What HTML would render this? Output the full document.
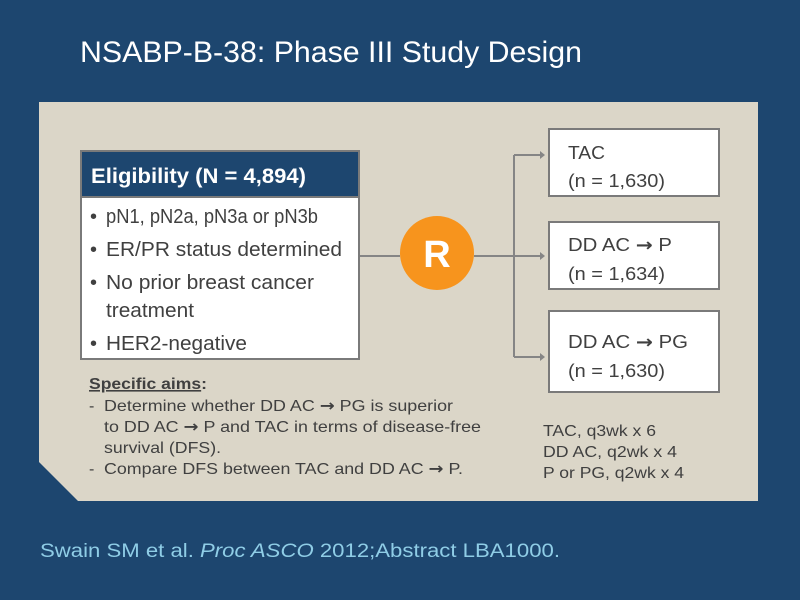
<!DOCTYPE html>
<html><head><meta charset="utf-8"><style>
html,body{margin:0;padding:0;background:#1d466f;}
svg{display:block;font-family:"Liberation Sans",sans-serif;}
</style></head><body>
<svg width="800" height="600" viewBox="0 0 800 600" xmlns="http://www.w3.org/2000/svg">
<rect x="0" y="0" width="800" height="600" fill="#1d466f"/>
<text x="80" y="62" font-size="30" fill="#ffffff" textLength="502" lengthAdjust="spacingAndGlyphs">NSABP-B-38: Phase III Study Design</text>
<polygon points="39,102 758,102 758,501 78,501 39,462" fill="#dbd6c8"/>
<g stroke="#858585" stroke-width="2" fill="none">
<line x1="359" y1="256" x2="400" y2="256"/>
<line x1="474" y1="256" x2="540" y2="256"/>
<line x1="514" y1="155" x2="514" y2="357"/>
<line x1="514" y1="155" x2="540" y2="155"/>
<line x1="514" y1="357" x2="540" y2="357"/>
</g>
<g fill="#858585">
<polygon points="540,151 545,155 540,159"/>
<polygon points="540,252 545,256 540,260"/>
<polygon points="540,353 545,357 540,361"/>
</g>
<rect x="81" y="151" width="278" height="208" fill="#ffffff" stroke="#7a7a7a" stroke-width="2"/>
<rect x="82" y="152" width="276" height="44" fill="#1d466f"/>
<line x1="81" y1="197" x2="359" y2="197" stroke="#7a7a7a" stroke-width="2"/>
<text x="91" y="183" font-size="21" font-weight="bold" fill="#ffffff" textLength="215" lengthAdjust="spacingAndGlyphs">Eligibility (N = 4,894)</text>
<g font-size="20" fill="#404040">
<text x="90" y="223">•</text>
<text x="106" y="223" textLength="212" lengthAdjust="spacingAndGlyphs">pN1, pN2a, pN3a or pN3b</text>
<text x="90" y="256">•</text>
<text x="106" y="256" textLength="236" lengthAdjust="spacingAndGlyphs">ER/PR status determined</text>
<text x="90" y="289">•</text>
<text x="106" y="289" textLength="208" lengthAdjust="spacingAndGlyphs">No prior breast cancer</text>
<text x="106" y="317" textLength="88" lengthAdjust="spacingAndGlyphs">treatment</text>
<text x="90" y="350">•</text>
<text x="106" y="350" textLength="141" lengthAdjust="spacingAndGlyphs">HER2-negative</text>
</g>
<circle cx="437" cy="253" r="37" fill="#f7941d"/>
<text x="437" y="267" font-size="38" font-weight="bold" fill="#ffffff" text-anchor="middle">R</text>
<g fill="#ffffff" stroke="#7a7a7a" stroke-width="2">
<rect x="549" y="129" width="170" height="67"/>
<rect x="549" y="222" width="170" height="67"/>
<rect x="549" y="311" width="170" height="81"/>
</g>
<g font-size="18" fill="#404040">
<text x="568" y="159" textLength="37" lengthAdjust="spacingAndGlyphs">TAC</text>
<text x="568" y="187" textLength="97" lengthAdjust="spacingAndGlyphs">(n = 1,630)</text>
<text x="568" y="251" textLength="104" lengthAdjust="spacingAndGlyphs">DD AC <tspan font-family="DejaVu Sans" font-weight="bold">→</tspan> P</text>
<text x="568" y="280" textLength="97" lengthAdjust="spacingAndGlyphs">(n = 1,634)</text>
<text x="568" y="348" textLength="120" lengthAdjust="spacingAndGlyphs">DD AC <tspan font-family="DejaVu Sans" font-weight="bold">→</tspan> PG</text>
<text x="568" y="377" textLength="97" lengthAdjust="spacingAndGlyphs">(n = 1,630)</text>
</g>
<g font-size="16" fill="#404040">
<text x="89" y="389" font-weight="bold" textLength="118" lengthAdjust="spacingAndGlyphs"><tspan text-decoration="underline">Specific aims</tspan>:</text>
<text x="89" y="411">-</text>
<text x="104" y="411" textLength="349" lengthAdjust="spacingAndGlyphs">Determine whether DD AC <tspan font-family="DejaVu Sans" font-weight="bold">→</tspan> PG is superior</text>
<text x="104" y="432" textLength="377" lengthAdjust="spacingAndGlyphs">to DD AC <tspan font-family="DejaVu Sans" font-weight="bold">→</tspan> P and TAC in terms of disease-free</text>
<text x="104" y="453" textLength="117" lengthAdjust="spacingAndGlyphs">survival (DFS).</text>
<text x="89" y="474">-</text>
<text x="104" y="474" textLength="359" lengthAdjust="spacingAndGlyphs">Compare DFS between TAC and DD AC <tspan font-family="DejaVu Sans" font-weight="bold">→</tspan> P.</text>
<text x="543" y="436" textLength="113" lengthAdjust="spacingAndGlyphs">TAC, q3wk x 6</text>
<text x="543" y="457" textLength="134" lengthAdjust="spacingAndGlyphs">DD AC, q2wk x 4</text>
<text x="543" y="478" textLength="141" lengthAdjust="spacingAndGlyphs">P or PG, q2wk x 4</text>
</g>
<text x="40" y="557" font-size="19" fill="#8fcde6" textLength="520" lengthAdjust="spacingAndGlyphs">Swain SM et al. <tspan font-style="italic">Proc ASCO</tspan> 2012;Abstract LBA1000.</text>
</svg>
</body></html>
